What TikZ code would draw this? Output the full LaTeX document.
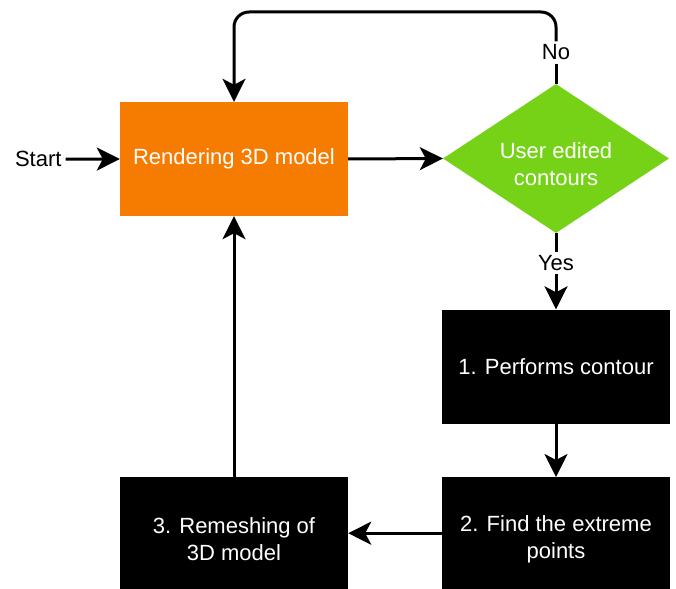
\documentclass[tikz,border=0pt]{standalone}
\usepackage{fontspec}
\setmainfont{Liberation Sans}
\usetikzlibrary{shapes.geometric,arrows.meta}
\definecolor{renderorange}{RGB}{245,124,0}
\definecolor{editgreen}{RGB}{118,210,22}
\begin{document}
\begin{tikzpicture}[x=1pt,y=-1pt,
    txt/.style={font=\fontsize{22}{26.5}\selectfont},
    box/.style={txt,text=white,minimum width=228pt,minimum height=114pt,inner sep=0pt,align=center},
    wire/.style={line width=3pt},
    flow/.style={wire,-{Stealth[length=23pt,width=23pt,inset=6pt]}},
    lbl/.style={txt,fill=white}]
  \useasboundingbox (0,0) rectangle (676,588);
  % boxes
  \node [txt,anchor=base,inner sep=4pt] (start) at (38.3,166.7) {Start};
  \node [box,fill=renderorange] (render) at (234,159) {Rendering 3D model};
  \node [box,fill=editgreen,shape=diamond,aspect=1.52,minimum width=226pt,minimum height=149pt] (decision) at (556,158.5) {\rule{0pt}{27pt}User edited\\contours};
  \node [box,fill=black] (contour) at (556,366.5) {1. Performs contour};
  \node [box,fill=black,anchor=north,minimum height=124pt] (extreme) at (556,477) {2. Find the extreme\\points};
  \node [box,fill=black,anchor=north,minimum height=124pt] (remesh) at (234,477) {3. Remeshing of\\3D model};
  \node [lbl] (no) at (556,52.5) {No};
  \node [lbl] (yes) at (556,263) {Yes};
  \coordinate (loop) at (556,12);
  % connectors
  \draw [flow] (start.east) -- (render.west);
  \draw [flow] (render.east) -- (decision.west);
  \draw [wire] (decision.north) -- (no.south);
  \draw [flow,rounded corners=15pt] (no.north) -- (loop) -| (render.north);
  \draw [wire] (decision.south) -- (yes.north);
  \draw [flow] (yes.south) -- (contour.north);
  \draw [flow] (contour.south) -- (extreme.north);
  \draw [flow] ([yshift=6pt]extreme.west) -- ([yshift=6pt]remesh.east);
  \draw [flow] (remesh.north) -- (render.south);
\end{tikzpicture}
\end{document}
